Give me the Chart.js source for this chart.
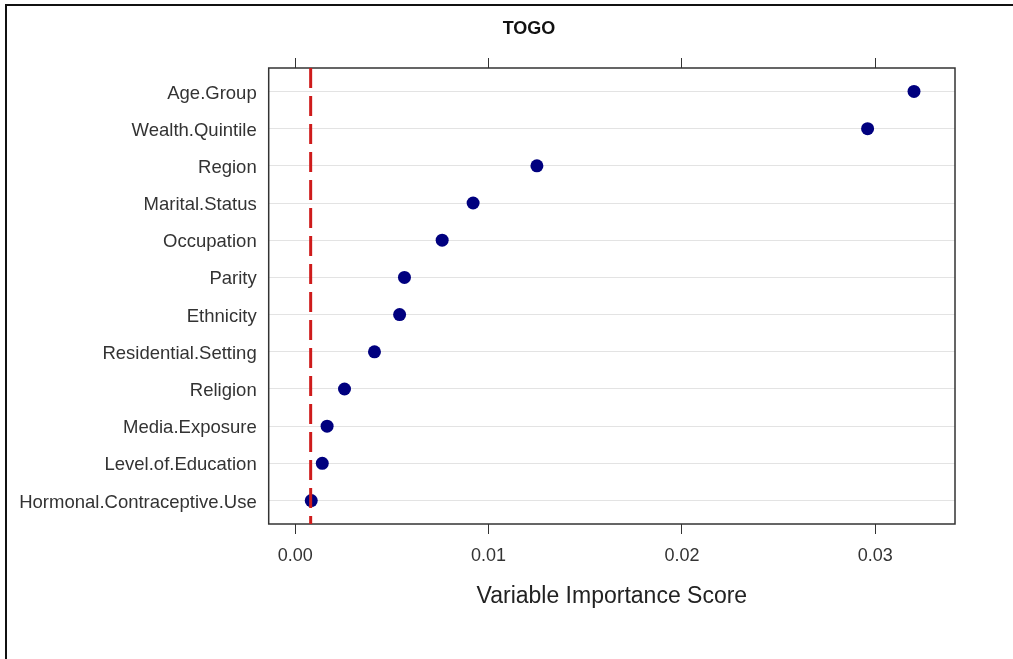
<!DOCTYPE html>
<html>
<head>
<meta charset="utf-8">
<script src="https://cdn.jsdelivr.net/npm/chart.js@4.4.0/dist/chart.umd.min.js"></script>
<style>
  html, body { margin: 0; padding: 0; background: #fff; }
  #wrap { width: 1013px; height: 659px; }
</style>
</head>
<body>
<div id="wrap"><canvas id="chart" width="1013" height="659"></canvas></div>
<script>
// data
const variables = [
  'Age.Group', 'Wealth.Quintile', 'Region', 'Marital.Status', 'Occupation', 'Parity',
  'Ethnicity', 'Residential.Setting', 'Religion', 'Media.Exposure', 'Level.of.Education',
  'Hormonal.Contraceptive.Use'
];
const importance = [0.0320, 0.0296, 0.0125, 0.0092, 0.0076, 0.00565, 0.0054, 0.0041, 0.00255, 0.00165, 0.0014, 0.00083];
const xTicks = [0, 0.01, 0.02, 0.03];
const cutoff = 0.0008;
const chartTitle = 'TOGO';
const xTitle = 'Variable Importance Score';

const xMin = -0.00137, xMax = 0.03412;
const yMin = 0.37, yMax = 12.63;

const FONT = "'Liberation Sans', Arial, sans-serif";

// outer frame + title
const decor = {
  id: 'decor',
  beforeDraw(chart) {
    const ctx = chart.ctx;
    ctx.save();
    ctx.fillStyle = '#fff';
    ctx.fillRect(0, 0, chart.width, chart.height);
    ctx.strokeStyle = '#111';
    ctx.lineWidth = 2;
    ctx.beginPath();
    ctx.moveTo(6, 659);
    ctx.lineTo(6, 5);
    ctx.lineTo(1013, 5);
    ctx.stroke();
    ctx.fillStyle = '#111';
    ctx.font = 'bold 18px ' + FONT;
    ctx.textAlign = 'center';
    ctx.textBaseline = 'middle';
    ctx.fillText(chartTitle, 529, 29);
    ctx.restore();
  }
};

// panel box
const box = {
  id: 'box',
  beforeDatasetsDraw(chart) {
    const { ctx, chartArea: a } = chart;
    ctx.save();
    ctx.strokeStyle = '#333';
    ctx.lineWidth = 1.5;
    ctx.strokeRect(a.left, a.top, a.right - a.left, a.bottom - a.top);
    ctx.restore();
  }
};

const setXTicks = scale => { scale.ticks = xTicks.map(v => ({ value: v })); };

new Chart(document.getElementById('chart').getContext('2d'), {
  type: 'scatter',
  data: {
    datasets: [
      {
        type: 'line',
        data: [{ x: cutoff, y: yMin }, { x: cutoff, y: yMax }],
        borderColor: '#CE1B1B',
        borderWidth: 3,
        borderDash: [20, 8],
        pointRadius: 0,
        order: 0
      },
      {
        data: variables.map((v, i) => ({ x: importance[i], y: i + 1 })),
        pointRadius: 6.5,
        pointHoverRadius: 6.5,
        backgroundColor: '#00007F',
        borderColor: '#00007F',
        borderWidth: 0,
        order: 1
      }
    ]
  },
  options: {
    responsive: false,
    animation: false,
    layout: { padding: { left: 0, top: 0, right: 58, bottom: 0 } },
    plugins: { legend: { display: false }, tooltip: { enabled: false } },
    scales: {
      x: {
        type: 'linear',
        position: 'bottom',
        min: xMin,
        max: xMax,
        afterBuildTicks: setXTicks,
        afterFit: s => { s.height = 135; },
        grid: { drawOnChartArea: false, drawTicks: true, tickLength: 10, tickColor: '#333', tickWidth: 1 },
        border: { display: false },
        ticks: {
          padding: 11,
          color: '#333',
          font: { family: FONT, size: 18 },
          callback: v => v.toFixed(2)
        },
        title: {
          display: true,
          text: xTitle,
          color: '#222',
          font: { family: FONT, size: 23 },
          padding: { top: 0, bottom: 49 }
        }
      },
      x2: {
        type: 'linear',
        position: 'top',
        min: xMin,
        max: xMax,
        afterBuildTicks: setXTicks,
        afterFit: s => { s.height = 68; },
        grid: { drawOnChartArea: false, drawTicks: true, tickLength: 10, tickColor: '#333', tickWidth: 1 },
        border: { display: false },
        ticks: { display: false }
      },
      y: {
        type: 'linear',
        reverse: true,
        min: yMin,
        max: yMax,
        afterBuildTicks: scale => { scale.ticks = variables.map((v, i) => ({ value: i + 1 })); },
        afterFit: s => { s.width = 268.7; },
        grid: { color: '#e3e3e3', lineWidth: 1, drawTicks: false },
        border: { display: false },
        ticks: {
          autoSkip: false,
          padding: 12,
          labelOffset: 2,
          color: '#333',
          font: { family: FONT, size: 18.5 },
          callback: (v, i) => variables[i]
        }
      }
    }
  },
  plugins: [decor, box]
});
</script>
</body>
</html>
